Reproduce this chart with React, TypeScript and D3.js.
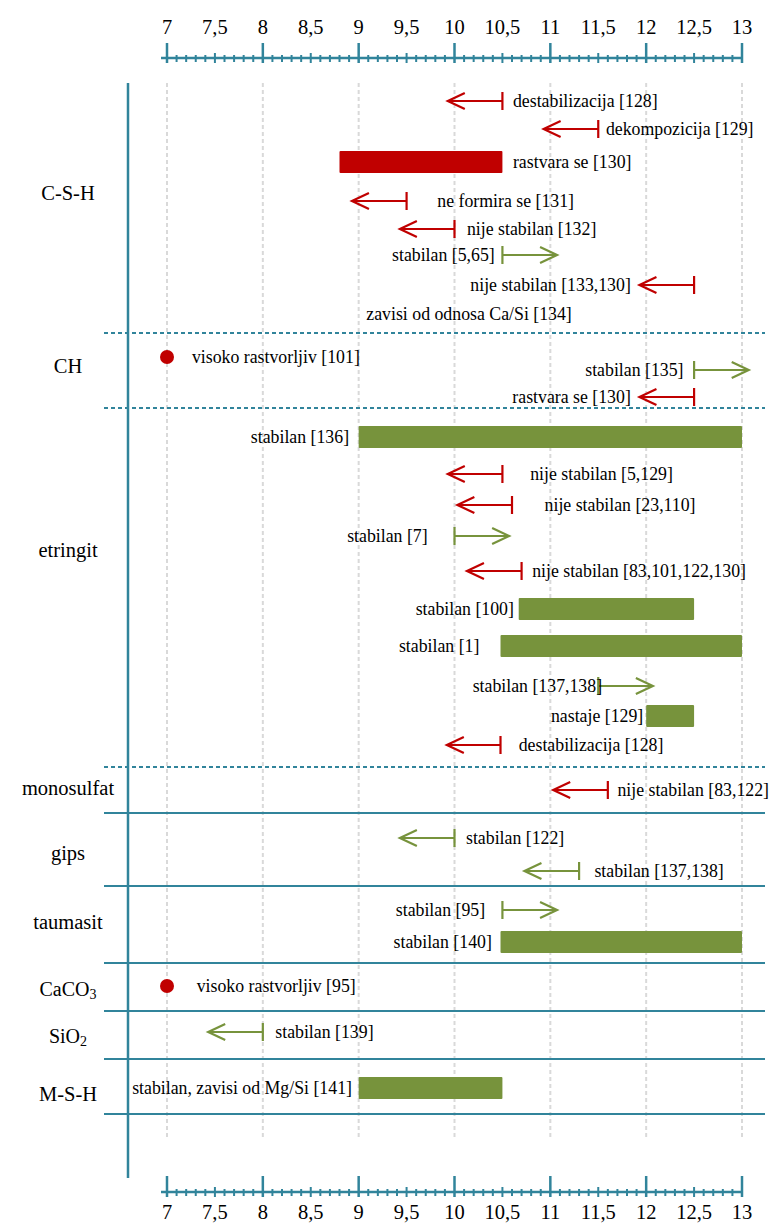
import React from "react";
import * as d3 from "d3";

const W = 769;
const H = 1224;

const RED = "#C00000";
const GREEN = "#77933C";
const TEAL = "#31849B";
const GRID = "#D9D9D9";

// pH axis
const phMin = 7;
const phMax = 13;
const majorTicks = [7, 8, 9, 10, 11, 12, 13];
const tickLabels = ["7", "7,5", "8", "8,5", "9", "9,5", "10", "10,5", "11", "11,5", "12", "12,5", "13"];
const tickLabelValues = [7, 7.5, 8, 8.5, 9, 9.5, 10, 10.5, 11, 11.5, 12, 12.5, 13];

// Categories (row = vertical position in chart row units)
const categoryNames = ["C-S-H", "CH", "etringit", "monosulfat", "gips", "taumasit", "CaCO3", "SiO2", "M-S-H"];
const categoryRows = [195, 368, 552, 790, 855, 924, 991, 1038, 1096];

// Separators between groups
const separatorRows = [333, 408, 767, 813, 886, 963, 1011, 1059, 1114];
const separatorDashed = [true, true, true, false, false, false, false, false, false];

// Marks: kind, colour, from pH, to pH, row, label, label pH, label anchor
const markKinds = [
  "arrow", "arrow", "bar", "arrow", "arrow", "arrow", "arrow", "text",
  "dot", "arrow", "arrow",
  "bar", "arrow", "arrow", "arrow", "arrow", "bar", "bar", "arrow", "bar", "arrow",
  "arrow",
  "arrow", "arrow",
  "arrow", "bar",
  "dot",
  "arrow",
  "bar",
];
const markColors = [
  "r", "r", "r", "r", "r", "g", "r", "n",
  "r", "g", "r",
  "g", "r", "r", "g", "r", "g", "g", "g", "g", "r",
  "r",
  "g", "g",
  "g", "g",
  "r",
  "g",
  "g",
];
const markFrom = [
  10.5, 11.5, 8.8, 9.5, 10, 10.5, 12.5, 0,
  7, 12.5, 12.5,
  9, 10.5, 10.6, 10, 10.7, 10.67, 10.48, 11.5, 12, 10.48,
  11.6,
  10, 11.3,
  10.5, 10.48,
  7,
  8,
  9,
];
const markTo = [
  9.93, 10.93, 10.5, 8.93, 9.43, 11.07, 11.93, 0,
  7, 13.07, 11.93,
  13, 9.93, 10.03, 10.57, 10.13, 12.5, 13, 12.07, 12.5, 9.92,
  11.03,
  9.43, 10.73,
  11.07, 13,
  7,
  7.43,
  10.5,
];
const markRows = [
  101, 129, 162, 201, 229, 255, 285, 314,
  357, 370, 397,
  437, 474, 505, 536, 571, 609, 646, 686, 716, 745,
  790,
  838, 871,
  910, 942,
  986,
  1032,
  1088,
];
const markLabels = [
  "destabilizacija [128]", "dekompozicija [129]", "rastvara se [130]", "ne formira se [131]",
  "nije stabilan [132]", "stabilan [5,65]", "nije stabilan [133,130]", "zavisi od odnosa Ca/Si [134]",
  "visoko rastvorljiv [101]", "stabilan [135]", "rastvara se [130]",
  "stabilan [136]", "nije stabilan [5,129]", "nije stabilan [23,110]", "stabilan [7]",
  "nije stabilan [83,101,122,130]", "stabilan [100]", "stabilan [1]", "stabilan [137,138]",
  "nastaje [129]", "destabilizacija [128]",
  "nije stabilan [83,122]",
  "stabilan [122]", "stabilan [137,138]",
  "stabilan [95]", "stabilan [140]",
  "visoko rastvorljiv [95]",
  "stabilan [139]",
  "stabilan, zavisi od Mg/Si [141]",
];
const markLabelAt = [
  10.61, 11.58, 10.61, 9.82, 10.13, 10.42, 11.84, 9.08,
  7.26, 12.39, 11.84,
  8.9, 10.79, 10.94, 9.72, 10.81, 10.62, 10.26, 11.54, 11.97, 10.67,
  11.7,
  10.12, 11.46,
  10.32, 10.39,
  7.31,
  8.13,
  8.93,
];
const markLabelAnchor = [
  "s", "s", "s", "s", "s", "e", "e", "s",
  "s", "e", "e",
  "e", "s", "s", "e", "s", "e", "e", "e", "e", "s",
  "s",
  "s", "s",
  "e", "e",
  "s",
  "s",
  "e",
];

const FONT = "'Liberation Serif', 'DejaVu Serif', serif";

function Arrow({ x1, x2, y, color }: { x1: number; x2: number; y: number; color: string }) {
  const dir = x2 > x1 ? 1 : -1;
  const head = 17;
  const half = 8;
  return (
    <g stroke={color} strokeWidth={2.2} fill="none" strokeLinecap="butt">
      <line x1={x1} y1={y - 9} x2={x1} y2={y + 9} />
      <line x1={x1} y1={y} x2={x2} y2={y} />
      <polyline points={`${x2 - dir * head},${y - half} ${x2},${y} ${x2 - dir * head},${y + half}`} strokeLinejoin="miter" />
    </g>
  );
}

function CategoryLabel({ name, x, y }: { name: string; x: number; y: number }) {
  const m = name.match(/^(.*?)(\d)$/);
  if (m && (name === "CaCO3" || name === "SiO2")) {
    return (
      <text x={x} y={y} textAnchor="middle" dominantBaseline="middle" fontSize={20} fontFamily={FONT} fill="#000">
        {m[1]}
        <tspan fontSize={14} dy={5}>{m[2]}</tspan>
      </text>
    );
  }
  return (
    <text x={x} y={y} textAnchor="middle" dominantBaseline="middle" fontSize={20.5} fontFamily={FONT} fill="#000">
      {name}
    </text>
  );
}

export default function App() {
  const x = d3.scaleLinear().domain([phMin, phMax]).range([167, 742]);
  const y = d3.scaleLinear().domain([0, H]).range([0, H]);

  const minorTicks = d3.range(phMin * 10, phMax * 10 + 1).map((v) => v / 10);

  const topAxisY = 58;
  const botAxisY = 1192;

  const colorOf = (c: string) => (c === "r" ? RED : c === "g" ? GREEN : "#000");

  const axis = (ay: number, labelY: number, top: boolean) => (
    <g>
      <line x1={x(phMin) - 6} x2={x(phMax)} y1={ay} y2={ay} stroke={TEAL} strokeWidth={2.5} />
      {minorTicks.map((t, i) => {
        const isMajor = Math.abs(t - Math.round(t)) < 1e-6;
        const isHalf = !isMajor && Math.abs(t * 2 - Math.round(t * 2)) < 1e-6;
        let y1: number, y2: number;
        if (isMajor) {
          y1 = top ? ay - 15 : ay - 16;
          y2 = ay + 5;
        } else if (isHalf) {
          y1 = ay - 5;
          y2 = ay + 5;
        } else {
          y1 = ay - 3;
          y2 = ay + 4;
        }
        return (
          <line key={i} x1={x(t)} x2={x(t)} y1={y1} y2={y2} stroke={TEAL} strokeWidth={isMajor ? 2.5 : 2} />
        );
      })}
      {tickLabelValues.map((v, i) => (
        <text key={i} x={x(v)} y={labelY} textAnchor="middle" fontSize={20.5} fontFamily={FONT} fill="#000">
          {tickLabels[i]}
        </text>
      ))}
    </g>
  );

  return (
    <svg width={W} height={H} style={{ position: "absolute", left: 0, top: 0, background: "#fff" }}>
      <rect x={0} y={0} width={W} height={H} fill="#fff" />
      {/* grid */}
      {majorTicks.map((t) => (
        <line key={t} x1={x(t)} x2={x(t)} y1={83} y2={1138} stroke={GRID} strokeWidth={2} strokeDasharray="4,3" />
      ))}
      {/* separators */}
      {separatorRows.map((r, i) => (
        <line
          key={i}
          x1={104}
          x2={765}
          y1={y(r)}
          y2={y(r)}
          stroke={TEAL}
          strokeWidth={2}
          strokeDasharray={separatorDashed[i] ? "4,3" : undefined}
        />
      ))}
      {/* vertical axis */}
      <line x1={128} x2={128} y1={83} y2={1178} stroke={TEAL} strokeWidth={2.5} />
      {axis(topAxisY, 34, true)}
      {axis(botAxisY, 1219, false)}
      {categoryNames.map((n, i) => (
        <CategoryLabel key={n} name={n} x={68} y={y(categoryRows[i])} />
      ))}
      {markKinds.map((k, i) => {
        const col = colorOf(markColors[i]);
        const yy = y(markRows[i]);
        let mark: React.ReactNode = null;
        if (k === "arrow") {
          mark = <Arrow x1={x(markFrom[i])} x2={x(markTo[i])} y={yy} color={col} />;
        } else if (k === "bar") {
          const a = x(Math.min(markFrom[i], markTo[i]));
          const b = x(Math.max(markFrom[i], markTo[i]));
          mark = <rect x={a} y={yy - 11} width={b - a} height={22} fill={col} rx={1} />;
        } else if (k === "dot") {
          mark = <circle cx={x(markFrom[i])} cy={yy} r={7} fill={col} />;
        }
        return (
          <g key={i}>
            {mark}
            <text
              x={x(markLabelAt[i])}
              y={yy}
              dy="0.35em"
              textAnchor={markLabelAnchor[i] === "s" ? "start" : "end"}
              fontSize={17.8}
              fontFamily={FONT}
              fill="#000"
            >
              {markLabels[i]}
            </text>
          </g>
        );
      })}
    </svg>
  );
}
